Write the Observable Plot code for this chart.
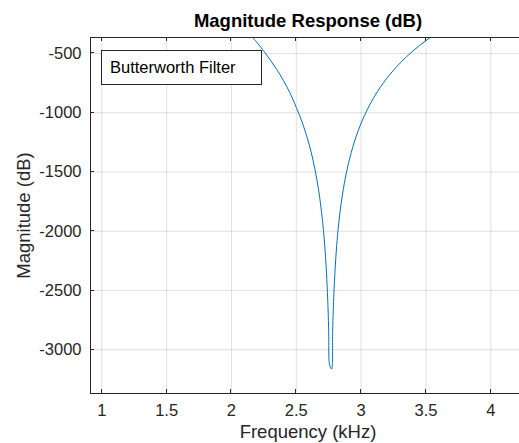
<!DOCTYPE html>
<html>
<head>
<meta charset="utf-8">
<script src="https://cdn.jsdelivr.net/npm/d3@7"></script>
<script src="https://cdn.jsdelivr.net/npm/@observablehq/plot@0.6"></script>
<style>
  html, body { margin: 0; padding: 0; background: #fff; }
  #chart { width: 519px; height: 443px; overflow: hidden; }
</style>
</head>
<body>
<div id="chart"></div>
<script>
// Frequency (kHz) and magnitude (dB), estimated from the reference curve
const freqKHz = [2.15, 2.20, 2.25, 2.30, 2.35, 2.40, 2.45, 2.50, 2.55, 2.60, 2.63, 2.66, 2.68,
                 2.70, 2.71, 2.72, 2.73, 2.74, 2.745, 2.75, 2.757,
                 2.772, 2.78, 2.785, 2.79, 2.80, 2.81, 2.82, 2.84, 2.87, 2.90, 2.95, 3.00,
                 3.05, 3.10, 3.15, 3.20, 3.25, 3.30, 3.35, 3.40, 3.45, 3.50, 3.55];
const magDB   = [-348, -412, -480, -555, -636, -727, -830, -955, -1095, -1271, -1406, -1573, -1713,
                 -1890, -2000, -2132, -2297, -2517, -2663, -2851, -3129,
                 -3162, -2851, -2665, -2521, -2303, -2141, -2012, -1812, -1597, -1437, -1237, -1087,
                 -967, -867, -781, -706, -640, -581, -527, -478, -433, -391, -353];
const xTicks = [1, 1.5, 2, 2.5, 3, 3.5, 4];
const yTicks = [-3000, -2500, -2000, -1500, -1000, -500];
const titleText = "Magnitude Response (dB)";
const xLabel = "Frequency (kHz)";
const yLabel = "Magnitude (dB)";
const legendLabel = "Butterworth Filter";

const data = freqKHz.map((f, i) => ({f, db: magDB[i]}));
const font = "'Liberation Sans', Arial, Helvetica, sans-serif";
const ink = "#262626";

const plot = Plot.plot({
  width: 519,
  height: 443,
  marginLeft: 90,
  marginRight: 0,
  marginTop: 37,
  marginBottom: 50,
  style: {fontFamily: font, background: "#fff", color: ink},
  x: {domain: [0.913, 4.221]},
  y: {domain: [-3369, -365]},
  marks: [
    Plot.gridX(xTicks, {stroke: "#000", strokeOpacity: 0.12}),
    Plot.gridY(yTicks, {stroke: "#000", strokeOpacity: 0.12}),
    Plot.axisX(xTicks, {tickSize: 0, tickPadding: 11, tickFormat: d => String(d), fontSize: 16.5, label: null, fill: ink}),
    Plot.axisY(yTicks, {tickSize: 0, tickPadding: 9, tickFormat: d => String(d), fontSize: 16.5, label: null, fill: ink}),
    Plot.line(data, {x: "f", y: "db", stroke: "#0072BD", strokeWidth: 1, curve: "catmull-rom", clip: true}),
    Plot.text([titleText], {frameAnchor: "top", textAnchor: "middle", lineAnchor: "middle", dx: 3, dy: -16, fontSize: 18.5, fontWeight: "bold", fill: "#000"}),
    Plot.text([xLabel], {frameAnchor: "bottom", textAnchor: "middle", lineAnchor: "top", dx: 3, dy: 31, fontSize: 18.5, fill: ink}),
    Plot.text([yLabel], {frameAnchor: "left", textAnchor: "middle", lineAnchor: "middle", dx: -66, rotate: -90, fontSize: 18.5, fill: ink})
  ]
});

document.getElementById("chart").append(plot);

// Box axes with inward ticks (MATLAB style), using Plot's scales
const sx = plot.scale("x"), sy = plot.scale("y");
const svg = d3.select(plot);
const x0 = sx.range[0], x1 = sx.range[1];
const yb = sy.range[0], yt = sy.range[1];
const g = svg.append("g").attr("stroke", ink).attr("stroke-width", 1).attr("shape-rendering", "crispEdges").attr("fill", "none");
g.append("line").attr("x1", x0).attr("x2", x1 + 10).attr("y1", yb).attr("y2", yb);
g.append("line").attr("x1", x0).attr("x2", x1 + 10).attr("y1", yt).attr("y2", yt);
g.append("line").attr("x1", x0).attr("x2", x0).attr("y1", yt).attr("y2", yb);
xTicks.forEach(v => {
  const px = sx.apply(v);
  g.append("line").attr("x1", px).attr("x2", px).attr("y1", yb).attr("y2", yb - 4);
  g.append("line").attr("x1", px).attr("x2", px).attr("y1", yt).attr("y2", yt + 4);
});
yTicks.forEach(v => {
  const py = sy.apply(v);
  g.append("line").attr("x1", x0).attr("x2", x0 + 4).attr("y1", py).attr("y2", py);
});

// Legend box
const lg = svg.append("g");
lg.append("rect").attr("x", 101.5).attr("y", 50.5).attr("width", 160).attr("height", 34)
  .attr("fill", "#fff").attr("stroke", ink).attr("stroke-width", 1);
lg.append("text").attr("x", 110).attr("y", 73).attr("font-size", 16.5).attr("font-family", font)
  .attr("text-anchor", "start").attr("fill", "#000").text(legendLabel);
</script>
</body>
</html>
